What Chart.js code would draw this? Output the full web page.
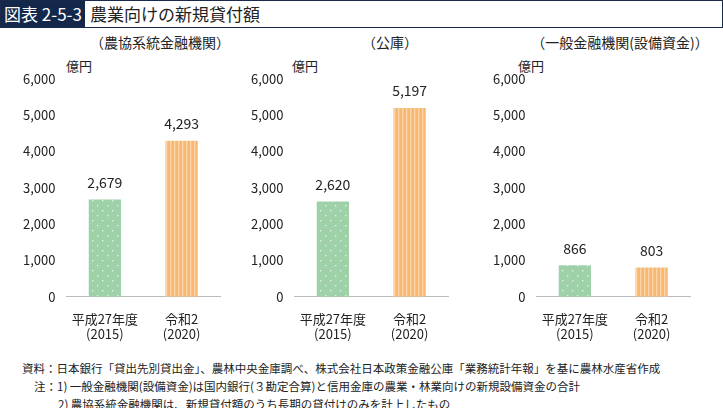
<!DOCTYPE html>
<html><head><meta charset="utf-8">
<script src="https://cdn.jsdelivr.net/npm/chart.js@4"></script>
<style>
body{margin:0;width:723px;height:408px;background:#fff;font-family:"Noto Sans CJK JP",sans-serif;color:#222;position:relative;overflow:hidden}
.hd{position:absolute;left:0;top:0;width:721px;height:26px;border:1px solid #1a2a4a;}
.hd .tag{position:absolute;left:0;top:0;height:26px;background:#13284b;color:#fff;font-size:17px;line-height:26px;padding:0 3px}
.hd .tt{position:absolute;left:89px;top:0;font-size:17px;line-height:26px}
.pt{position:absolute;top:32px;font-size:14px;text-align:center}
.un{position:absolute;top:56px;font-size:13px}
.c{position:absolute;top:68px}
.nt{position:absolute;left:22px;font-size:11.5px}
</style></head><body>
<div class="hd"><span class="tag">図表 2-5-3</span><span class="tt">農業向けの新規貸付額</span></div>
<div class="pt" style="left:60px;width:200px">（農協系統金融機関）</div>
<div class="pt" style="left:290px;width:200px">（公庫）</div>
<div class="pt" style="left:520px;width:200px">（一般金融機関(設備資金)）</div>
<div class="un" style="left:66px">億円</div>
<div class="un" style="left:292px">億円</div>
<div class="un" style="left:518px">億円</div>
<div class="c" style="left:20px"><canvas id="c1" width="210" height="280"></canvas></div>
<div class="c" style="left:248px"><canvas id="c2" width="210" height="280"></canvas></div>
<div class="c" style="left:490px"><canvas id="c3" width="210" height="280"></canvas></div>
<div class="nt" style="top:360px">資料：日本銀行「貸出先別貸出金」、農林中央金庫調べ、株式会社日本政策金融公庫「業務統計年報」を基に農林水産省作成</div>
<div class="nt" style="top:378px;left:34px">注：1) 一般金融機関(設備資金)は国内銀行(３勘定合算)と信用金庫の農業・林業向けの新規設備資金の合計</div>
<div class="nt" style="top:396px;left:58px">2) 農協系統金融機関は、新規貸付額のうち長期の貸付けのみを計上したもの</div>
<script>
var labels = [['平成27年度', '(2015)'], ['令和2', '(2020)']];
var nokyo = [2679, 4293];
var koko = [2620, 5197];
var ippan = [866, 803];
var yTicks = [0, 1000, 2000, 3000, 4000, 5000, 6000];

function dots() {
    var c = document.createElement('canvas'); c.width = 10; c.height = 10;
    var x = c.getContext('2d');
    x.fillStyle = '#9fd1a8'; x.fillRect(0, 0, 10, 10);
    x.fillStyle = '#e6f4e8';
    x.fillRect(2, 2, 1.3, 1.3); x.fillRect(7, 7, 1.3, 1.3);
    return x.createPattern(c, 'repeat');
}
function stripes() {
    var c = document.createElement('canvas'); c.width = 4; c.height = 4;
    var x = c.getContext('2d');
    x.fillStyle = '#f9b872'; x.fillRect(0, 0, 4, 4);
    x.fillStyle = '#fcd6a8'; x.fillRect(2, 0, 1.3, 4);
    return x.createPattern(c, 'repeat');
}

var valueLabels = {
    id: 'valueLabels',
    afterDatasetsDraw: function (chart) {
        var ctx = chart.ctx;
        ctx.save();
        ctx.font = '14px "Noto Sans CJK JP"';
        ctx.fillStyle = '#222';
        ctx.textAlign = 'center';
        ctx.textBaseline = 'bottom';
        chart.getDatasetMeta(0).data.forEach(function (bar, i) {
            ctx.fillText(chart.data.datasets[0].data[i].toLocaleString('en-US'), bar.x, bar.y - 10);
        });
        ctx.restore();
    }
};

function make(id, values) {
    new Chart(document.getElementById(id), {
        type: 'bar',
        data: {
            labels: labels,
            datasets: [{
                data: values,
                backgroundColor: [dots(), stripes()],
                categoryPercentage: 0.42,
                barPercentage: 1
            }]
        },
        options: {
            responsive: false,
            animation: false,
            layout: { padding: { top: 5, right: 10 } },
            plugins: { legend: { display: false }, tooltip: { enabled: false } },
            scales: {
                x: {
                    grid: { display: false },
                    border: { color: '#bbb' },
                    ticks: { color: '#222', font: { size: 13, family: '"Noto Sans CJK JP"' }, padding: 6 }
                },
                y: {
                    min: 0, max: 6000,
                    afterBuildTicks: function (s) { s.ticks = yTicks.map(function (v) { return { value: v }; }); },
                    grid: { display: false },
                    border: { display: false },
                    ticks: {
                        color: '#222', font: { size: 13, family: '"Noto Sans CJK JP"' },
                        callback: function (v) { return v.toLocaleString('en-US'); }
                    }
                }
            }
        },
        plugins: [valueLabels]
    });
}
make('c1', nokyo);
make('c2', koko);
make('c3', ippan);
</script>
</body></html>
